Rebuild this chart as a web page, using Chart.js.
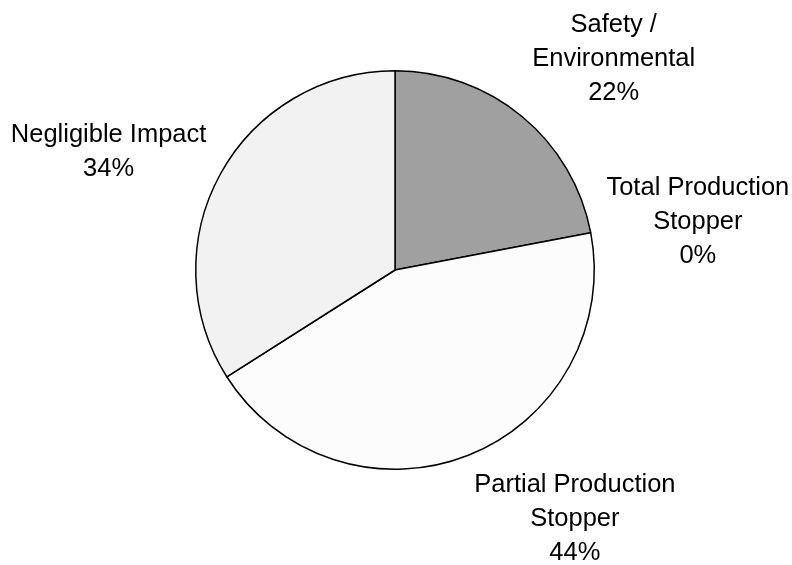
<!DOCTYPE html>
<html lang="en">
<head>
    <meta charset="UTF-8">
    <title>Impact breakdown</title>
    <style>
        html, body { margin: 0; padding: 0; background: #fff; }
        .plot { width: 792px; height: 565px; }
    </style>
</head>
<body>
    <div class="plot">
        <canvas id="mychart"></canvas>
    </div>
    <script src="https://cdn.jsdelivr.net/npm/chart.js@4/dist/chart.umd.min.js"></script>
    <script>
        // slices, clockwise from 12 o'clock
        const categories = [
            ['Safety /', 'Environmental'],
            ['Total Production', 'Stopper'],
            ['Partial Production', 'Stopper'],
            ['Negligible Impact']
        ]
        const shares = [22, 0, 44, 34]
        const sliceColors = ['#a0a0a0', '#808080', '#fcfcfc', '#f2f2f2']

        // labels outside the pie, Excel style
        const outsideLabels = {
            id: 'outsideLabels',
            afterDatasetsDraw(chart) {
                const ctx = chart.ctx
                const meta = chart.getDatasetMeta(0)
                const data = chart.data.datasets[0].data
                const total = data.reduce((a, b) => a + b, 0)
                const size = 25.5
                const lh = 33.7
                ctx.save()
                ctx.font = size + 'px "Liberation Sans", Arial, sans-serif'
                ctx.fillStyle = '#000'
                ctx.textAlign = 'center'
                ctx.textBaseline = 'alphabetic'
                meta.data.forEach((arc, i) => {
                    const lines = [].concat(chart.data.labels[i])
                    lines.push(Math.round(data[i] / total * 100) + '%')
                    const mid = (arc.startAngle + arc.endAngle) / 2
                    const dist = arc.outerRadius + 16
                    const ax = arc.x + Math.cos(mid) * dist
                    const ay = arc.y + Math.sin(mid) * dist
                    let w = 0
                    lines.forEach(t => { w = Math.max(w, ctx.measureText(t).width) })
                    const h = lines.length * lh
                    const cx = ax + Math.sign(Math.cos(mid)) * w / 2
                    // upper-right labels sit a little higher in the original
                    const lift = (Math.sin(mid) < -0.6 && Math.cos(mid) > 0) ? 8 : 0
                    const cy = ay + Math.sin(mid) * h / 2 - lift
                    lines.forEach((t, k) => {
                        ctx.fillText(t, cx, cy + (k - (lines.length - 1) / 2) * lh + 9)
                    })
                })
                ctx.restore()
            }
        }

        new Chart(document.querySelector('#mychart'), {
            type: 'pie',
            data: {
                labels: categories,
                datasets: [
                    {
                        data: shares,
                        backgroundColor: sliceColors,
                        borderColor: '#000',
                        borderWidth: 1.5,
                    },
                ],
            },
            options: {
                responsive: true,
                maintainAspectRatio: false,
                animation: false,
                layout: {
                    padding: { top: 70, bottom: 95, left: 195, right: 197 }
                },
                plugins: {
                    legend: { display: false },
                    tooltip: { enabled: false },
                },
            },
            plugins: [outsideLabels],
        })
    </script>
</body>
</html>
